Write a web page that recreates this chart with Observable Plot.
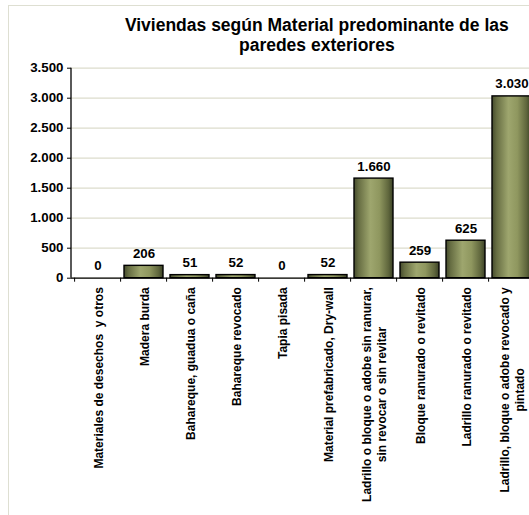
<!DOCTYPE html>
<html>
<head>
<meta charset="utf-8">
<script src="https://cdn.jsdelivr.net/npm/d3@7"></script>
<script src="https://cdn.jsdelivr.net/npm/@observablehq/plot@0.6"></script>
<style>
  html, body { margin: 0; padding: 0; background: #fff; overflow: hidden; }
  #wrap { position: relative; width: 529px; height: 515px; overflow: hidden; }
  #border { position: absolute; left: 8px; top: 5px; width: 700px; height: 700px;
            border: 1.5px solid #dedfd2; pointer-events: none; }
  #title { position: absolute; left: 66.8px; width: 500px; top: 15px; text-align: center;
           font-family: "Liberation Sans", Arial, sans-serif; font-weight: bold;
           font-size: 17.5px; line-height: 20px; color: #000; }
  #chart { position: absolute; left: 0; top: 0; }
  #chart svg { max-width: none !important; }
</style>
</head>
<body>
<div id="wrap">
  <div id="chart"></div>
  <div id="title">Viviendas según Material predominante de las<br>paredes exteriores</div>
  <div id="border"></div>
</div>
<script>
const categories = [
  "Materiales de desechos  y otros",
  "Madera burda",
  "Bahareque, guadua o caña",
  "Bahareque revocado",
  "Tapia pisada",
  "Material prefabricado, Dry-wall",
  "Ladrillo o bloque o adobe sin ranurar,\nsin revocar o sin revitar",
  "Bloque ranurado o revitado",
  "Ladrillo ranurado o revitado",
  "Ladrillo, bloque o adobe revocado y\npintado"
];
const values = [0, 206, 51, 52, 0, 52, 1660, 259, 625, 3030];
const yTicks = [0, 500, 1000, 1500, 2000, 2500, 3000, 3500];

const data = categories.map((c, i) => ({cat: c, value: values[i]}));
const loc = d3.formatLocale({decimal: ",", thousands: ".", grouping: [3], currency: ["$", ""]});
const fmt = loc.format(",d");

const W = 540, H = 515;
const mL = 71, mR = 1, mT = 67.7, mB = 237.3;
const step = (W - mL - mR) / categories.length;

const plot = Plot.plot({
  width: W,
  height: H,
  marginLeft: mL,
  marginRight: mR,
  marginTop: mT,
  marginBottom: mB,
  style: {background: "transparent", maxWidth: "none", fontFamily: "'Liberation Sans', Arial, sans-serif", fontWeight: "bold", fontSize: "13px", color: "#000"},
  x: {domain: categories, paddingInner: 0.15, paddingOuter: 0.075, axis: null},
  y: {domain: [0, 3500], axis: null},
  marks: [
    Plot.gridY(yTicks, {stroke: "#dcdccc", strokeOpacity: 1, strokeWidth: 1.3}),
    Plot.axisY({ticks: yTicks, tickFormat: fmt, tickSize: 4, tickPadding: 4, fontSize: 13.3, fontWeight: "bold", stroke: "#000", label: null}),
    Plot.barY(data, {x: "cat", y: "value", fill: "url(#olive)", stroke: "#000", strokeWidth: 1.4}),
    Plot.ruleY([0], {stroke: "#000", strokeWidth: 1.3}),
    Plot.axisX({tickSize: 4, tickFormat: () => "", dx: -step / 2, stroke: "#000", label: null}),
    Plot.axisX({tickSize: 0, tickPadding: 9, tickRotate: -90, fontSize: 12, fontWeight: "bold", lineHeight: 1.17, label: null, ariaLabel: "xlabels"}),
    Plot.text(data, {x: "cat", y: "value", text: d => fmt(d.value), dy: -8, lineAnchor: "bottom", fontSize: 13.3, fontWeight: "bold", fill: "#000"})
  ]
});

const svg = d3.select(plot);
const defs = svg.insert("defs", ":first-child");
const g = defs.append("linearGradient").attr("id", "olive").attr("x1", 0).attr("x2", 1).attr("y1", 0).attr("y2", 0);
[[0, "#454b2d"], [0.12, "#676e43"], [0.42, "#9ea66e"], [0.65, "#8f975f"], [0.88, "#60673d"], [1, "#3c4227"]]
  .forEach(([o, c]) => g.append("stop").attr("offset", o).attr("stop-color", c));

document.getElementById("chart").appendChild(plot);

// y-axis line
svg.append("line")
  .attr("x1", mL).attr("x2", mL).attr("y1", mT).attr("y2", H - mB)
  .attr("stroke", "#000").attr("stroke-width", 1.3);

// x labels: keep double spaces like Excel
svg.selectAll("g[aria-label='xlabels'] text")
  .attr("xml:space", "preserve").style("white-space", "pre");

// center-align multi-line rotated labels like Excel
svg.selectAll("text").each(function() {
  const tspans = d3.select(this).selectAll("tspan");
  if (tspans.size() > 1) {
    let maxLen = 0;
    tspans.each(function() { maxLen = Math.max(maxLen, this.getComputedTextLength()); });
    d3.select(this).attr("text-anchor", "middle");
    tspans.attr("x", -maxLen / 2);
  }
});
</script>
</body>
</html>
